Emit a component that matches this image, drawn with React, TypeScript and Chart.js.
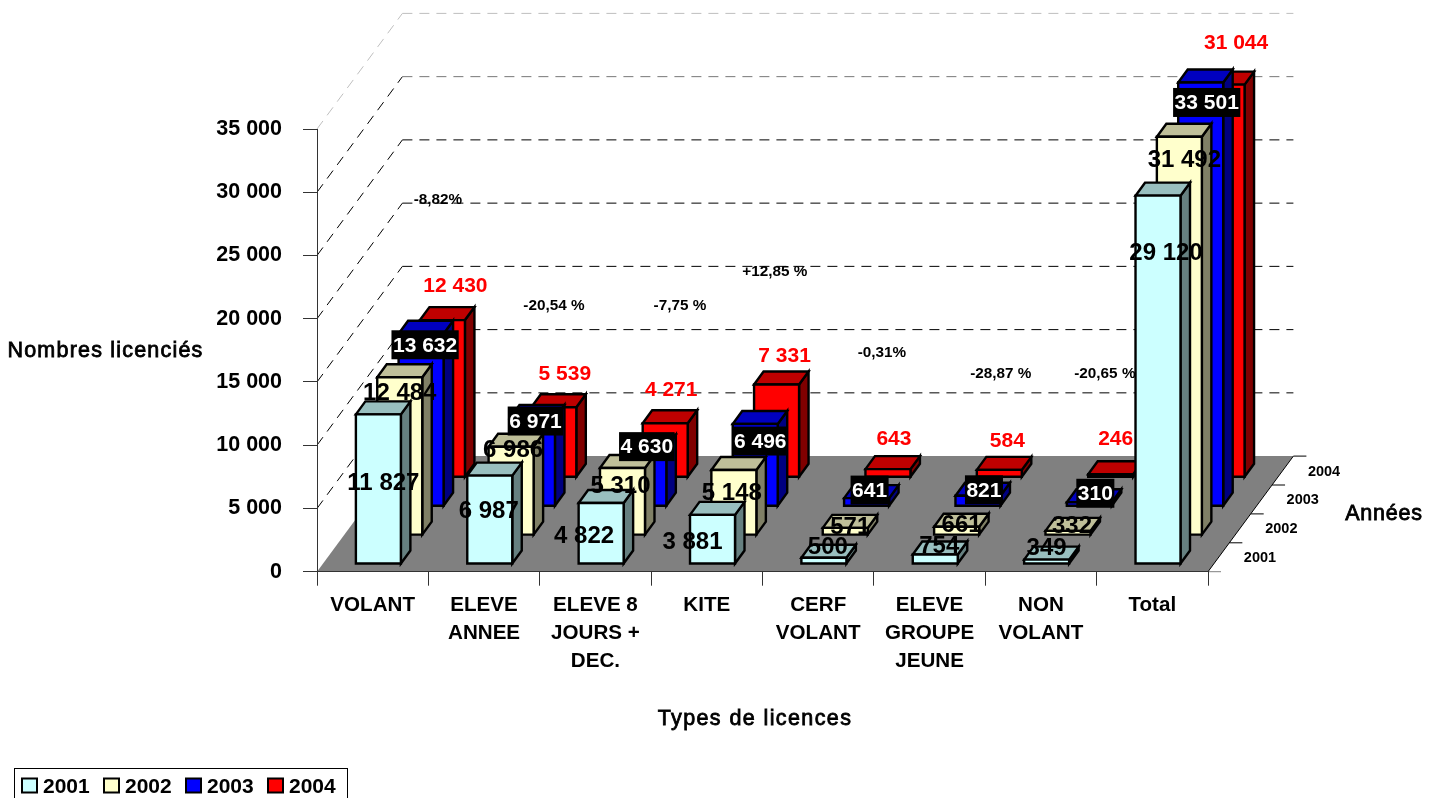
import React, { useEffect, useRef } from "react";
import { Chart, registerables } from "chart.js";

Chart.register(...registerables);

const categories = [
  "VOLANT",
  ["ELEVE", "ANNEE"],
  ["ELEVE 8", "JOURS +", "DEC."],
  "KITE",
  ["CERF", "VOLANT"],
  ["ELEVE", "GROUPE", "JEUNE"],
  ["NON", "VOLANT"],
  "Total",
];
const years = ["2001", "2002", "2003", "2004"];
const values2001 = [11827, 6987, 4822, 3881, 500, 754, 349, 29120];
const values2002 = [12484, 6986, 5310, 5148, 571, 661, 332, 31492];
const values2003 = [13632, 6971, 4630, 6496, 641, 821, 310, 33501];
const values2004 = [12430, 5539, 4271, 7331, 643, 584, 246, 31044];
const changeLabels = ["-8,82%", "-20,54 %", "-7,75 %", "+12,85 %", "-0,31%", "-28,87 %", "-20,65 %"];
const changeCategoryPos = [0.586, 1.627, 2.759, 3.611, 4.572, 5.64, 6.574];
const changeValue = [29460, 21080, 21080, 23780, 17370, 15710, 15710];

const FONT = '"Liberation Sans", Arial, sans-serif';
const colors = [
  { front: "#CCFFFF", top: "#99BFBF", side: "#668080" },
  { front: "#FFFFCC", top: "#BFBF99", side: "#808066" },
  { front: "#0000FF", top: "#0000BF", side: "#000080" },
  { front: "#FF0000", top: "#BF0000", side: "#800000" },
];
const labelSizes = [24, 24, 21, 21];

// 3D projection of one depth slot, and the bar's place inside it
const STEP_X = 21.35;
const STEP_Y = 28.9;
const FRONT_GAP_X = 5.7;
const FRONT_GAP_Y = 7.7;
const BAR_DX = 9.5;
const BAR_DY = 13;

// label nudges relative to the top-centre of each bar's front face
const labelNudgeX = [
  [5, -1, -17, -20, 4, 4, 0, 8],
  [0, 2, -2, -2, 5, 5, 4, 5],
  [4, 3, 3, 5, 3, 6, 6, 6],
  [13, 11, 6, 8, 6, 8, 5, 14],
];
const labelNudgeY = [
  [68, 35, 32, 26, -11, -9, -12, 57],
  [15, 3, 17, 22, -2, -2, -6, 23],
  [11, 3, -1, 17, -8, -6, -9, 20],
  [-35, -34, -34, -29, -31, -30, -36, -42],
];

const fmt = (v: number) => String(v).replace(/\B(?=(\d{3})+(?!\d))/g, " ");

function text(ctx: any, s: string, x: number, y: number, font: string, color = "#000", spacing = "0px", align = "center", thicken = 0) {
  ctx.save();
  ctx.font = font;
  ctx.letterSpacing = spacing;
  ctx.fillStyle = color;
  ctx.textAlign = align;
  ctx.textBaseline = "middle";
  ctx.fillText(s, x, y + 1);
  if (thicken) {
    ctx.strokeStyle = color;
    ctx.lineWidth = thicken;
    ctx.strokeText(s, x, y + 1);
  }
  ctx.restore();
}

function poly(ctx: any, pts: number[][], fill: string | null, stroke: string | null, lw = 2.4) {
  ctx.beginPath();
  pts.forEach((p, i) => (i ? ctx.lineTo(p[0], p[1]) : ctx.moveTo(p[0], p[1])));
  ctx.closePath();
  if (fill) {
    ctx.fillStyle = fill;
    ctx.fill();
  }
  if (stroke) {
    ctx.strokeStyle = stroke;
    ctx.lineWidth = lw;
    ctx.stroke();
  }
}

const scene = {
  id: "scene3d",
  beforeDraw(chart: any) {
    const { ctx, chartArea: a, scales } = chart;
    const n = years.length;
    const dx = STEP_X * n;
    const dy = STEP_Y * n;
    ctx.save();
    // floor
    poly(ctx, [[a.left, a.bottom], [a.right, a.bottom], [a.right + dx, a.bottom - dy], [a.left + dx, a.bottom - dy]], "#808080", null);
    // walls' grid lines
    ctx.lineWidth = 1;
    ctx.setLineDash([10, 7]);
    scales.y.ticks.forEach((t: any, i: number, all: any[]) => {
      if (t.value === 0) return;
      const y = scales.y.getPixelForValue(t.value);
      const last = i === all.length - 1;
      ctx.strokeStyle = last ? "#BFBFBF" : "#000";
      ctx.beginPath();
      ctx.moveTo(a.left, y);
      ctx.lineTo(a.left + dx, y - dy);
      ctx.stroke();
      ctx.strokeStyle = last ? "#BFBFBF" : i === all.length - 2 ? "#777" : "#000";
      ctx.beginPath();
      ctx.moveTo(a.left + dx, y - dy);
      ctx.lineTo(a.right + dx, y - dy);
      ctx.stroke();
    });
    ctx.setLineDash([]);
    // right floor edge and depth axis
    ctx.strokeStyle = "#000";
    ctx.beginPath();
    ctx.moveTo(a.right, a.bottom);
    ctx.lineTo(a.right + dx, a.bottom - dy);
    ctx.stroke();
    for (let i = 0; i <= n; i++) {
      const x = a.right + STEP_X * i;
      const y = a.bottom - STEP_Y * i;
      ctx.strokeStyle = i === 0 ? "#808080" : "#000";
      ctx.beginPath();
      ctx.moveTo(x, y);
      ctx.lineTo(x + 13, y);
      ctx.stroke();
      if (i < n) text(ctx, years[i], x + 52, y - 14.5, `bold 14.5px ${FONT}`);
    }
    ctx.restore();
  },
  beforeDatasetsDraw(chart: any) {
    const { ctx } = chart;
    ctx.save();
    ctx.lineJoin = "miter";
    for (let s = chart.data.datasets.length - 1; s >= 0; s--) {
      const meta = chart.getDatasetMeta(s);
      const c = colors[s];
      meta.data.forEach((bar: any) => {
        const ox = FRONT_GAP_X + STEP_X * s;
        const oy = -FRONT_GAP_Y - STEP_Y * s;
        const l = bar.x - bar.width / 2 + ox;
        const r = bar.x + bar.width / 2 + ox;
        const t = bar.y + oy;
        const b = bar.base + oy;
        poly(ctx, [[r, t], [r + BAR_DX, t - BAR_DY], [r + BAR_DX, b - BAR_DY], [r, b]], c.side, "#000");
        poly(ctx, [[l, t], [l + BAR_DX, t - BAR_DY], [r + BAR_DX, t - BAR_DY], [r, t]], c.top, "#000");
        poly(ctx, [[l, t], [r, t], [r, b], [l, b]], c.front, "#000");
      });
    }
    ctx.restore();
    return false;
  },
  afterDraw(chart: any) {
    const { ctx, chartArea: a, scales } = chart;
    // value labels
    chart.data.datasets.forEach((ds: any, s: number) => {
      const meta = chart.getDatasetMeta(s);
      meta.data.forEach((bar: any, j: number) => {
        const x = bar.x + FRONT_GAP_X + STEP_X * s + labelNudgeX[s][j];
        const y = bar.y - FRONT_GAP_Y - STEP_Y * s + labelNudgeY[s][j];
        const label = fmt(ds.data[j]);
        const font = `bold ${labelSizes[s]}px ${FONT}`;
        if (s === 2) {
          ctx.save();
          ctx.font = font;
          const w = ctx.measureText(label).width + 3;
          ctx.fillStyle = "#000";
          ctx.fillRect(x - w / 2, y - 14.5, w, 29);
          ctx.restore();
          text(ctx, label, x, y, font, "#fff");
        } else {
          text(ctx, label, x, y, font, s === 3 ? "#FF0000" : "#000");
        }
      });
    });
    // year-over-year change notes
    changeLabels.forEach((t, i) => {
      text(ctx, t, scales.x.getPixelForValue(changeCategoryPos[i]), scales.y.getPixelForValue(changeValue[i]), `bold 15.3px ${FONT}`);
    });
    // axis titles set horizontally
    text(ctx, "Nombres licenciés", 105.5, 350, `21.5px ${FONT}`, "#000", "1.2px", "center", 0.8);
    text(ctx, "Années", a.right + 176, 513, `21.5px ${FONT}`, "#000", "0.8px", "center", 0.8);
    text(ctx, "Types de licences", 755, 718, `21.5px ${FONT}`, "#000", "1.4px", "center", 0.8);
    // legend
    ctx.save();
    ctx.strokeStyle = "#000";
    ctx.lineWidth = 1;
    ctx.strokeRect(14.5, 768.5, 333, 40);
    chart.data.datasets.forEach((ds: any, i: number) => {
      const x = 22 + 82 * i;
      ctx.fillStyle = ds.backgroundColor;
      ctx.fillRect(x, 778.5, 15, 14);
      ctx.strokeStyle = "#000";
      ctx.lineWidth = 2;
      ctx.strokeRect(x, 778.5, 15, 14);
      text(ctx, ds.label, x + 21, 786, `bold 21px ${FONT}`, "#000", "0px", "left");
    });
    ctx.restore();
  },
};

export default function App() {
  const ref = useRef<HTMLCanvasElement>(null);
  useEffect(() => {
    const series = [values2001, values2002, values2003, values2004];
    const chart = new Chart(ref.current as HTMLCanvasElement, {
      type: "bar",
      data: {
        labels: categories as any,
        datasets: series.map((data, i) => ({
          label: years[i],
          data,
          backgroundColor: colors[i].front,
          borderColor: "#000",
          grouped: false,
          barPercentage: 0.404,
          categoryPercentage: 1,
        })),
      },
      options: {
        animation: false,
        responsive: false,
        maintainAspectRatio: false,
        layout: { padding: { top: 129, right: 229, left: 0, bottom: 0 } },
        plugins: { legend: { display: false }, tooltip: { enabled: false } },
        scales: {
          x: {
            afterFit: (s: any) => { s.height = 226.3; },
            grid: { drawOnChartArea: false, tickLength: 14, color: "#333" },
            border: { color: "#333" },
            ticks: {
              color: "#000",
              autoSkip: false,
              maxRotation: 0,
              minRotation: 0,
              padding: 6,
              font: { family: FONT, size: 20.6, weight: "bold", lineHeight: 1.36 },
            },
          },
          y: {
            min: 0,
            max: 35000,
            afterFit: (s: any) => { s.width = 317; },
            grid: { drawOnChartArea: false, tickLength: 14, color: "#333" },
            border: { color: "#333" },
            ticks: {
              stepSize: 5000,
              color: "#000",
              padding: 21,
              font: { family: FONT, size: 21.5, weight: "bold" },
              callback: (v: any) => fmt(v),
            },
          },
        },
      },
      plugins: [scene],
    } as any);
    return () => chart.destroy();
  }, []);
  return (
    <canvas
      ref={ref}
      width={1437}
      height={798}
      style={{ position: "absolute", left: 0, top: 0, display: "block" }}
    />
  );
}
